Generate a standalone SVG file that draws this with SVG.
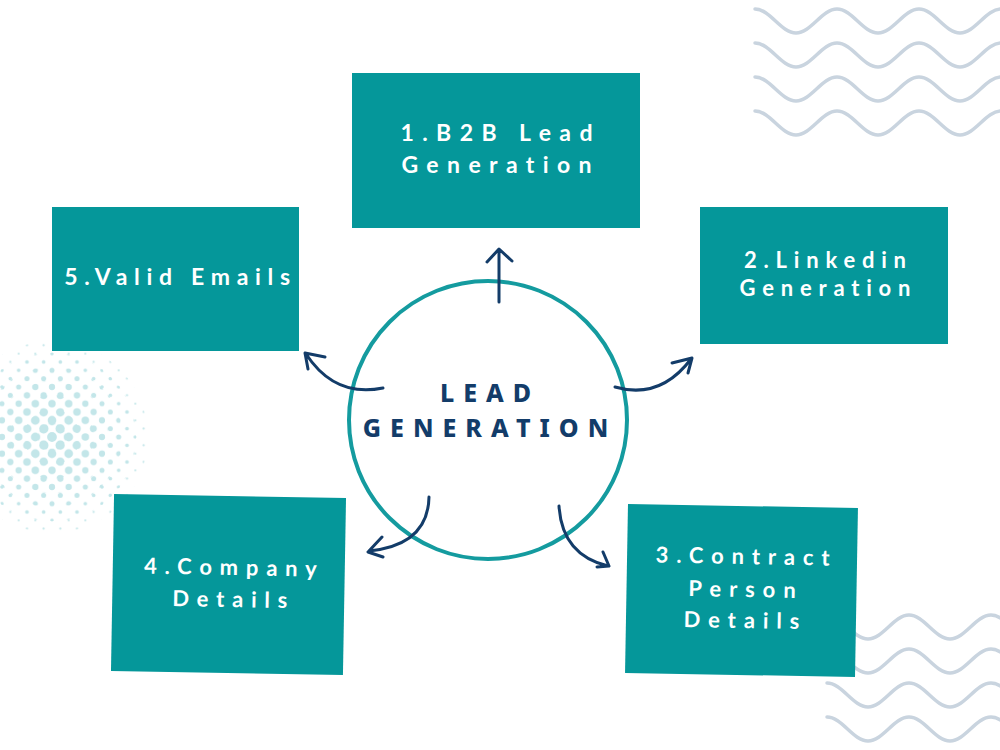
<svg xmlns="http://www.w3.org/2000/svg" width="1000" height="750" viewBox="0 0 1000 750">
<style>
.box{fill:#05979a}
.bt{font-family:Lato,"Liberation Sans",sans-serif;font-weight:700;fill:#ffffff;text-anchor:middle}
.ct{font-family:"Noto Sans","Open Sans","Liberation Sans",sans-serif;font-weight:800;fill:#133c69;text-anchor:middle;font-size:25px;letter-spacing:9px}
.arr{fill:none;stroke:#133c69;stroke-width:3;stroke-linecap:round;stroke-linejoin:round}
.wave{fill:none;stroke:#c9d4df;stroke-width:3.5;stroke-linecap:round}
</style>
<defs>
<path id="w" d="M755,9 C770,9 781,33 796,33 S822,9 837,9 S863,33 878,33 S904,9 919,9 S945,33 960,33 S986,9 1001,9 S1027,33 1042,33 S1068,9 1083,9"/>
<pattern id="d1" patternUnits="userSpaceOnUse" x="52" y="437" width="16.67" height="16.67"><g fill="#c3e6e9"><circle cx="0" cy="0" r="1.1"/><circle cx="16.67" cy="0" r="1.1"/><circle cx="0" cy="16.67" r="1.1"/><circle cx="16.67" cy="16.67" r="1.1"/><circle cx="8.33" cy="8.33" r="1.1"/></g></pattern>
<pattern id="d2" patternUnits="userSpaceOnUse" x="52" y="437" width="16.67" height="16.67"><g fill="#c3e6e9"><circle cx="0" cy="0" r="1.8"/><circle cx="16.67" cy="0" r="1.8"/><circle cx="0" cy="16.67" r="1.8"/><circle cx="16.67" cy="16.67" r="1.8"/><circle cx="8.33" cy="8.33" r="1.8"/></g></pattern>
<pattern id="d3" patternUnits="userSpaceOnUse" x="52" y="437" width="16.67" height="16.67"><g fill="#c3e6e9"><circle cx="0" cy="0" r="2.5"/><circle cx="16.67" cy="0" r="2.5"/><circle cx="0" cy="16.67" r="2.5"/><circle cx="16.67" cy="16.67" r="2.5"/><circle cx="8.33" cy="8.33" r="2.5"/></g></pattern>
<pattern id="d4" patternUnits="userSpaceOnUse" x="52" y="437" width="16.67" height="16.67"><g fill="#c3e6e9"><circle cx="0" cy="0" r="3.1"/><circle cx="16.67" cy="0" r="3.1"/><circle cx="0" cy="16.67" r="3.1"/><circle cx="16.67" cy="16.67" r="3.1"/><circle cx="8.33" cy="8.33" r="3.1"/></g></pattern>
<pattern id="d5" patternUnits="userSpaceOnUse" x="52" y="437" width="16.67" height="16.67"><g fill="#c3e6e9"><circle cx="0" cy="0" r="3.7"/><circle cx="16.67" cy="0" r="3.7"/><circle cx="0" cy="16.67" r="3.7"/><circle cx="16.67" cy="16.67" r="3.7"/><circle cx="8.33" cy="8.33" r="3.7"/></g></pattern>
<pattern id="d6" patternUnits="userSpaceOnUse" x="52" y="437" width="16.67" height="16.67"><g fill="#c3e6e9"><circle cx="0" cy="0" r="4.3"/><circle cx="16.67" cy="0" r="4.3"/><circle cx="0" cy="16.67" r="4.3"/><circle cx="16.67" cy="16.67" r="4.3"/><circle cx="8.33" cy="8.33" r="4.3"/></g></pattern>
<pattern id="d7" patternUnits="userSpaceOnUse" x="52" y="437" width="16.67" height="16.67"><g fill="#c3e6e9"><circle cx="0" cy="0" r="4.8"/><circle cx="16.67" cy="0" r="4.8"/><circle cx="0" cy="16.67" r="4.8"/><circle cx="16.67" cy="16.67" r="4.8"/><circle cx="8.33" cy="8.33" r="4.8"/></g></pattern>
</defs>
<rect width="1000" height="750" fill="#ffffff"/>
<g id="decor">
<g id="halftone">
<circle cx="52" cy="437" r="96" fill="url(#d1)"/>
<circle cx="52" cy="437" r="84" fill="url(#d2)"/>
<circle cx="52" cy="437" r="70" fill="url(#d3)"/>
<circle cx="52" cy="437" r="56" fill="url(#d4)"/>
<circle cx="52" cy="437" r="42" fill="url(#d5)"/>
<circle cx="52" cy="437" r="28" fill="url(#d6)"/>
<circle cx="52" cy="437" r="14" fill="url(#d7)"/>
</g>
<g id="waves-top" class="wave">
<use href="#w"/>
<use href="#w" transform="translate(0,34)"/>
<use href="#w" transform="translate(0,68)"/>
<use href="#w" transform="translate(0,102)"/>
</g>
<g id="waves-bottom" class="wave">
<use href="#w" transform="translate(72,606)"/>
<use href="#w" transform="translate(72,640)"/>
<use href="#w" transform="translate(72,674)"/>
<use href="#w" transform="translate(72,708)"/>
</g>
</g>
<g id="node-b2b">
<rect class="box" x="352" y="73" width="288" height="155"/>
<text class="bt" font-size="23" letter-spacing="8.4" x="500.7" y="141">1.B2B Lead</text>
<text class="bt" font-size="23" letter-spacing="8.4" x="500.7" y="173">Generation</text>
</g>
<g id="node-linkedin">
<rect class="box" x="700" y="207" width="248" height="137"/>
<text class="bt" font-size="22" letter-spacing="6.8" x="828.4" y="268">2.Linkedin</text>
<text class="bt" font-size="22" letter-spacing="6.8" x="828.4" y="296">Generation</text>
</g>
<g id="node-contact" transform="rotate(1 741.5 590.5)">
<rect class="box" x="626.5" y="506" width="230" height="169"/>
<text class="bt" font-size="22" letter-spacing="7.9" x="746" y="564">3.Contract</text>
<text class="bt" font-size="22" letter-spacing="7.9" x="746" y="597">Person</text>
<text class="bt" font-size="22" letter-spacing="7.9" x="746" y="628">Details</text>
</g>
<g id="node-company" transform="rotate(1 228.5 584.5)">
<rect class="box" x="112.5" y="496" width="232" height="177"/>
<text class="bt" font-size="22" letter-spacing="7.8" x="234" y="575">4.Company</text>
<text class="bt" font-size="22" letter-spacing="7.8" x="234" y="607">Details</text>
</g>
<g id="node-emails">
<rect class="box" x="52" y="207" width="247" height="144"/>
<text class="bt" font-size="23" letter-spacing="6.7" x="180.5" y="285">5.Valid Emails</text>
</g>
<g id="node-center">
<circle cx="488" cy="420" r="139" fill="none" stroke="#149b9f" stroke-width="4"/>
<text class="ct" x="490" y="402">LEAD</text>
<text class="ct" x="490" y="437">GENERATION</text>
</g>
<g id="connectors" class="arr">
<path d="M499,302 L499,250 M487,262 L499,249 L512,261"/>
<path d="M383,388 Q335,398 306,354 M325,357 L305,353 L308,369"/>
<path d="M615,387 Q660,400 691,359 M672,363 L692,358 L688,373"/>
<path d="M429,497 Q428,545 369,551 M382,537 L368,552 L383,557"/>
<path d="M559,506 Q562,555 608,566 M603,552 L609,566 L597,567"/>
</g>
</svg>
